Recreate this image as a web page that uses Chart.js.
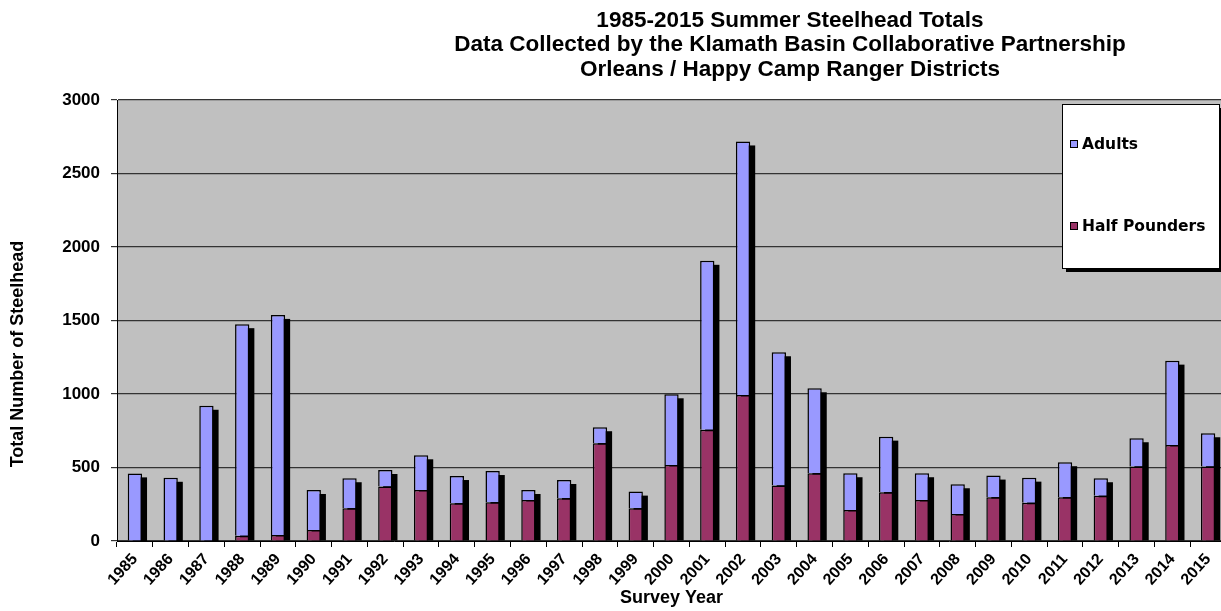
<!DOCTYPE html>
<html lang="en">
<head>
<meta charset="UTF-8">
<title>Summer Steelhead Totals</title>
<script src="https://cdn.jsdelivr.net/npm/chart.js"></script>
<style>
  html, body { margin: 0; padding: 0; background: #fff; overflow: hidden; }
  #wrap { width: 1226px; height: 611px; position: relative; }
</style>
</head>
<body>
<div id="wrap"><canvas id="chart"></canvas></div>
<script>
// values
const years = ['1985','1986','1987','1988','1989','1990','1991','1992','1993','1994','1995',
  '1996','1997','1998','1999','2000','2001','2002','2003','2004','2005','2006','2007','2008',
  '2009','2010','2011','2012','2013','2014','2015'];
const halfPounders = [0, 0, 0, 35, 40, 75, 222, 370, 347, 256, 263, 279, 290, 665, 222, 517,
  756, 994, 377, 461, 211, 331, 279, 184, 297, 261, 297, 308, 506, 653, 506];
const adults = [460, 430, 920, 1440, 1498, 272, 205, 113, 236, 186, 213, 68, 125, 109, 114, 481,
  1150, 1724, 907, 578, 250, 379, 182, 202, 148, 170, 239, 119, 193, 574, 227];
const titleLines = ['1985-2015 Summer Steelhead Totals',
  'Data Collected by the Klamath Basin Collaborative Partnership',
  'Orleans / Happy Camp Ranger Districts'];
const yTitle = 'Total Number of Steelhead';
const xTitle = 'Survey Year';

const ADULT_COLOR = '#9999FF';
const HALF_COLOR = '#993366';

// grey plot background
const plotBg = {
  id: 'plotBg',
  beforeDraw(chart) {
    const { ctx, chartArea: a } = chart;
    ctx.save();
    ctx.fillStyle = '#C0C0C0';
    ctx.fillRect(a.left, a.top, a.right - a.left, a.bottom - a.top);
    ctx.restore();
  }
};

// black drop shadow behind each stacked bar
const barShadow = {
  id: 'barShadow',
  beforeDatasetsDraw(chart) {
    const { ctx } = chart;
    const low = chart.getDatasetMeta(0).data;
    const high = chart.getDatasetMeta(1).data;
    ctx.save();
    ctx.fillStyle = '#000';
    low.forEach((el, i) => {
      const top = Math.min(el.y, high[i].y);
      const w = el.width;
      ctx.fillRect(el.x - w / 2 + 5, top + 4, w, el.base - top - 4);
    });
    ctx.restore();
  }
};

// titles and legend box
const decorations = {
  id: 'decorations',
  afterDraw(chart) {
    const { ctx, chartArea: a } = chart;
    ctx.save();
    ctx.fillStyle = '#000';
    ctx.textAlign = 'center';
    ctx.textBaseline = 'alphabetic';
    ctx.font = 'bold 22.5px "Liberation Sans", Arial, sans-serif';
    const baselines = [27, 51, 76];
    titleLines.forEach((t, i) => ctx.fillText(t, 790, baselines[i]));

    // y axis title
    ctx.save();
    ctx.translate(18, 354);
    ctx.rotate(-Math.PI / 2);
    ctx.textBaseline = 'middle';
    ctx.font = 'bold 18px "Liberation Sans", Arial, sans-serif';
    ctx.fillText(yTitle, 0, 0);
    ctx.restore();

    // legend
    const bx = a.right - 164, by = a.top + 4, bw = 157, bh = 164;
    ctx.fillStyle = '#000';
    ctx.fillRect(bx + 4, by + 4, bw, bh);
    ctx.fillStyle = '#fff';
    ctx.fillRect(bx, by, bw, bh);
    ctx.strokeStyle = '#000';
    ctx.lineWidth = 1;
    ctx.strokeRect(bx + 0.5, by + 0.5, bw, bh);
    const items = [
      { label: 'Adults', color: ADULT_COLOR, y: by + 40 },
      { label: 'Half Pounders', color: HALF_COLOR, y: by + 122 }
    ];
    ctx.textAlign = 'left';
    ctx.textBaseline = 'middle';
    ctx.font = 'bold 15.5px "DejaVu Sans", sans-serif';
    items.forEach(it => {
      ctx.fillStyle = it.color;
      ctx.fillRect(bx + 8, it.y - 4, 7, 7);
      ctx.strokeStyle = '#000';
      ctx.strokeRect(bx + 8.5, it.y - 3.5, 7, 7);
      ctx.fillStyle = '#000';
      ctx.fillText(it.label, bx + 20, it.y + 1);
    });
    ctx.restore();
  }
};

new Chart(document.getElementById('chart'), {
  type: 'bar',
  data: {
    labels: years,
    datasets: [
      {
        label: 'Half Pounders',
        data: halfPounders,
        backgroundColor: HALF_COLOR,
        borderColor: '#000',
        borderWidth: 1.5,
        categoryPercentage: 1,
        barPercentage: 0.4
      },
      {
        label: 'Adults',
        data: adults,
        backgroundColor: ADULT_COLOR,
        borderColor: '#000',
        borderWidth: 1.5,
        categoryPercentage: 1,
        barPercentage: 0.4
      }
    ]
  },
  options: {
    responsive: true,
    maintainAspectRatio: false,
    animation: false,
    layout: { padding: { top: 100, left: 0, right: 0, bottom: 0 } },
    plugins: {
      legend: { display: false },
      title: { display: false },
      tooltip: { enabled: false }
    },
    scales: {
      x: {
        stacked: true,
        afterFit: s => { s.height = 70; },
        grid: { drawOnChartArea: false, drawTicks: true, tickLength: 6, color: '#000', offset: true },
        border: { color: '#000', width: 1 },
        ticks: {
          color: '#000',
          minRotation: 48,
          maxRotation: 48,
          padding: 3,
          autoSkip: false,
          font: { family: '"Liberation Sans", Arial, sans-serif', size: 16, weight: 'bold' }
        },
        title: {
          display: true,
          text: xTitle,
          color: '#000',
          padding: { top: 0, bottom: 2 },
          font: { family: '"Liberation Sans", Arial, sans-serif', size: 18, weight: 'bold' }
        }
      },
      y: {
        stacked: true,
        min: 0,
        max: 3000,
        afterFit: s => { s.width = 117; },
        grid: { color: '#333', lineWidth: 1.2, tickLength: 6 },
        border: { color: '#000', width: 1 },
        ticks: {
          stepSize: 500,
          color: '#000',
          padding: 11,
          callback: v => String(v),
          font: { family: '"Liberation Sans", Arial, sans-serif', size: 17, weight: 'bold' }
        }
      }
    }
  },
  plugins: [plotBg, barShadow, decorations]
});
</script>
</body>
</html>
